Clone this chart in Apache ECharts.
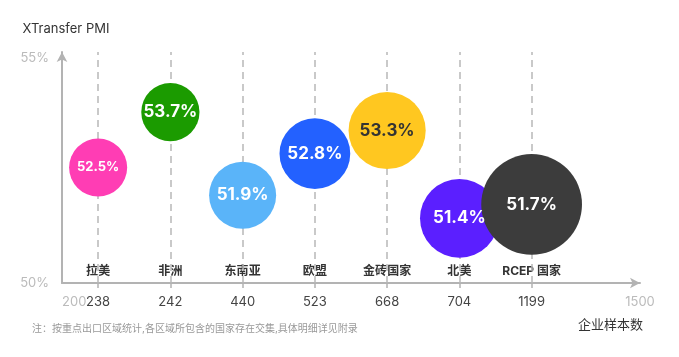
<!DOCTYPE html>
<html><head><meta charset="utf-8">
<script src="https://cdn.jsdelivr.net/npm/echarts@6/dist/echarts.min.js"></script>
<style>html,body{margin:0;padding:0;background:#fff}#c{width:679px;height:357px}</style>
</head><body><div id="c"></div>
<script>
// ---- data ----
const regions = ['拉美', '非洲', '东南亚', '欧盟', '金砖国家', '北美', 'RCEP 国家'];
const pmi = [52.5, 53.7, 51.9, 52.8, 53.3, 51.4, 51.7];
const samples = [238, 242, 440, 523, 668, 704, 1199];
const xTickLabels = ['200', '238', '242', '440', '523', '668', '704', '1199', '1500'];
const yTickLabels = ['50%', '55%'];

// ---- styles ----
const palette = ['#FF3DB4', '#1B9B00', '#5AB4F9', '#2361FF', '#FFC720', '#5B1FFF', '#3C3C3C'];
const labelColors = ['#fff', '#fff', '#fff', '#fff', '#333', '#fff', '#fff'];
const FONT = 'Inter, "Noto Sans CJK SC", sans-serif';
const X_MIN = -0.5, X_MAX = 7.5;
const idx = regions.map((_, i) => i);
const bubbleSize = s => 47.5 + 0.0444 * s;

const hiddenX = extra => Object.assign({
  type: 'value', min: X_MIN, max: X_MAX, position: 'bottom',
  axisLine: { show: false, onZero: false },
  axisTick: { show: false },
  splitLine: { show: false }
}, extra);

const chart = echarts.init(document.getElementById('c'));
chart.setOption({
  animation: false,
  textStyle: { fontFamily: FONT },
  title: [
    { text: '企业样本数', right: 31, top: 314,
      textStyle: { fontSize: 13, fontWeight: 'normal', color: '#333', fontFamily: FONT } },
    { text: '注：按重点出口区域统计,各区域所包含的国家存在交集,具体明细详见附录', left: 27, top: 319,
      textStyle: { fontSize: 10, fontWeight: 'normal', color: '#999', fontFamily: FONT } }
  ],
  grid: { left: 62, right: 39, top: 52, bottom: 74 },
  xAxis: [{
    // main axis line with the range end labels
    type: 'value', min: X_MIN, max: X_MAX, position: 'bottom',
    axisLine: { show: true, onZero: false, lineStyle: { color: '#b3b3b3', width: 2 },
      symbol: ['none', 'arrow'], symbolSize: [8, 10] },
    axisTick: { show: true, customValues: idx, length: 5, lineStyle: { color: '#b3b3b3', width: 1.5 } },
    splitLine: { show: false },
    axisLabel: {
      customValues: [X_MIN, X_MAX],
      showMinLabel: true, showMaxLabel: true,
      formatter: v => v < 0 ? xTickLabels[0] : xTickLabels[xTickLabels.length - 1],
      alignMinLabel: 'left',
      margin: 13, fontSize: 13, color: '#bbb', fontFamily: FONT
    }
  },
  // region names above the axis line
  hiddenX({
    axisLabel: {
      inside: true, customValues: idx,
      formatter: v => regions[Math.round(v)],
      fontWeight: 'bold', fontSize: 12, color: '#333', margin: 6, fontFamily: FONT
    }
  }),
  // sample sizes below the axis line
  hiddenX({
    axisLabel: {
      customValues: idx,
      formatter: v => xTickLabels[Math.round(v) + 1],
      fontSize: 13, color: '#444', margin: 13, fontFamily: FONT
    }
  })],
  yAxis: {
    type: 'value', min: 50, max: 55, interval: 5,
    name: 'XTransfer PMI', nameLocation: 'end', nameGap: 23,
    nameTextStyle: { color: '#333', fontSize: 13, align: 'center', verticalAlign: 'middle',
      padding: [0, 0, 0, 8], fontFamily: FONT },
    axisLine: { show: true, onZero: false, lineStyle: { color: '#b3b3b3', width: 2 },
      symbol: ['none', 'arrow'], symbolSize: [8, 10] },
    axisTick: { show: false },
    splitLine: { show: false },
    axisLabel: {
      formatter: v => yTickLabels[Math.round((v - 50) / 5)],
      color: '#bbb', fontSize: 13, margin: 13, fontFamily: FONT,
      verticalAlignMaxLabel: 'top'
    }
  },
  series: [{
    type: 'scatter', xAxisIndex: 0, yAxisIndex: 0, z: 3,
    symbolSize: v => bubbleSize(v[2]),
    data: regions.map((r, i) => ({
      name: r,
      value: [i, pmi[i], samples[i]],
      itemStyle: { color: palette[i], opacity: 1 },
      label: { color: labelColors[i], fontSize: bubbleSize(samples[i]) < 58.1 ? 13 : 17 }
    })),
    label: {
      show: true, position: 'inside',
      formatter: p => p.value[1].toFixed(1) + '%',
      fontWeight: 'bold', fontFamily: FONT
    },
    emphasis: { disabled: true },
    markLine: {
      silent: true, z: 1, symbol: ['none', 'none'],
      label: { show: false },
      lineStyle: { color: '#b8b8b8', type: [7, 5], width: 1.5 },
      emphasis: { disabled: true },
      data: idx.map(i => ({ xAxis: i }))
    }
  }]
});
</script></body></html>
